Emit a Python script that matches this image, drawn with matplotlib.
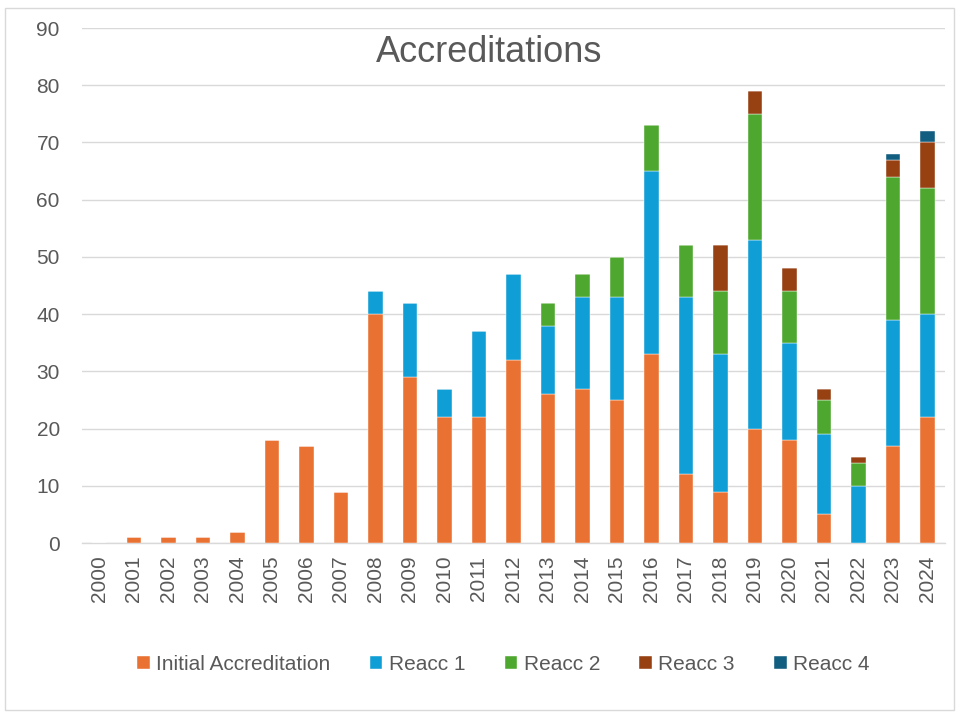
import matplotlib
matplotlib.use("Agg")
import matplotlib.pyplot as plt
from matplotlib.patches import Rectangle
import numpy as np

plt.rcParams['font.family'] = ['Liberation Sans', 'DejaVu Sans']

years = [str(y) for y in range(2000, 2025)]
initial = [0, 1, 1, 1, 2, 18, 17, 9, 40, 29, 22, 22, 32, 26, 27, 25, 33, 12, 9, 20, 18, 5, 0, 17, 22]
reacc1  = [0, 0, 0, 0, 0, 0, 0, 0, 4, 13, 5, 15, 15, 12, 16, 18, 32, 31, 24, 33, 17, 14, 10, 22, 18]
reacc2  = [0, 0, 0, 0, 0, 0, 0, 0, 0, 0, 0, 0, 0, 4, 4, 7, 8, 9, 11, 22, 9, 6, 4, 25, 22]
reacc3  = [0, 0, 0, 0, 0, 0, 0, 0, 0, 0, 0, 0, 0, 0, 0, 0, 0, 0, 8, 4, 4, 2, 1, 3, 8]
reacc4  = [0, 0, 0, 0, 0, 0, 0, 0, 0, 0, 0, 0, 0, 0, 0, 0, 0, 0, 0, 0, 0, 0, 0, 1, 2]

series = [
    ("Initial Accreditation", initial, "#E97132"),
    ("Reacc 1", reacc1, "#0F9ED5"),
    ("Reacc 2", reacc2, "#4EA72E"),
    ("Reacc 3", reacc3, "#974012"),
    ("Reacc 4", reacc4, "#125E80"),
]

fig = plt.figure(figsize=(9.59, 7.13), dpi=100)
ax = fig.add_axes([0.0855, 0.2384, 0.8995, 0.7223])

x = np.arange(len(years))
bottom = np.zeros(len(years))
for name, vals, col in series:
    v = np.array(vals, dtype=float)
    ax.bar(x, v, width=0.42, bottom=bottom, color=col, label=name, zorder=3,
           edgecolor='white', linewidth=0.3)
    bottom += v

ax.set_xlim(-0.5, len(years) - 0.5)
ax.set_ylim(0, 90)
ax.set_yticks(range(0, 91, 10))
ax.set_xticks(x)
ax.set_xticklabels(years, rotation=90, fontsize=15, color='#595959')
ax.tick_params(axis='y', labelsize=15, colors='#595959', length=0, pad=16)
ax.tick_params(axis='x', length=0, pad=9)
ax.yaxis.grid(True, color='#D9D9D9', linewidth=1, zorder=0)
ax.set_axisbelow(True)
for s in ['top', 'right', 'left']:
    ax.spines[s].set_visible(False)
ax.spines['bottom'].set_color('#D9D9D9')
ax.spines['bottom'].set_linewidth(1)

fig.text(0.51, 0.926, "Accreditations", ha='center', va='center', fontsize=26, color='#595959')

fig.legend(loc='center', bbox_to_anchor=(0.525, 0.068), ncol=5, frameon=False,
           fontsize=15, labelcolor='#595959', handlelength=0.6, handleheight=0.6,
           handletextpad=0.3, columnspacing=1.9)

fig.patches.append(Rectangle((0.005, 0.004), 0.99, 0.985, transform=fig.transFigure,
                             fill=False, edgecolor='#D9D9D9', linewidth=1))

fig.savefig("out.png", dpi=100)
